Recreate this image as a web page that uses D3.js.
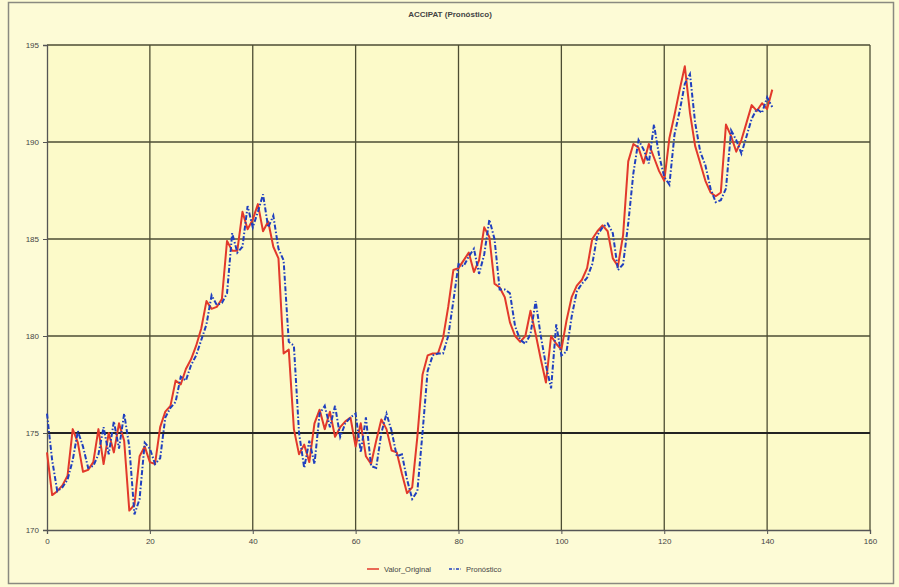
<!DOCTYPE html>
<html>
<head>
<meta charset="utf-8">
<script src="https://cdn.jsdelivr.net/npm/d3@7"></script>
<style>
  body { margin: 0; background: #fdfbd6; }
  svg { display: block; }
  .tick text { font-family: "Liberation Sans", Arial, sans-serif; font-size: 8px; fill: #444; }
</style>
</head>
<body>
<div id="chart"></div>
<script>
var svgWidth = 899;
var svgHeight = 587;

var margin = { left: 47, right: 29, top: 45, bottom: 57 };

var width = svgWidth - margin.left - margin.right,
    height = svgHeight - margin.top - margin.bottom;

var chartTitle = "ACCIPAT (Pronóstico)";
var seriesNames = ["Valor_Original", "Pronóstico"];
var xTicks = [0, 20, 40, 60, 80, 100, 120, 140, 160];
var yTicks = [170, 175, 180, 185, 190, 195];

// Valor_Original, one value per period 0..141
var valorOriginal = [
  174.0, 171.8, 172.0, 172.3, 172.8, 175.2, 174.5, 173.0, 173.1, 173.5,
  175.2, 173.4, 175.0, 174.0, 175.5, 174.6, 171.0, 171.3, 173.8, 174.3,
  173.5, 173.4, 175.3, 176.1, 176.4, 177.7, 177.5, 178.3, 178.8, 179.5,
  180.4, 181.8, 181.4, 181.5, 181.9, 184.9, 184.4, 184.4, 186.4, 185.5,
  186.0, 186.8, 185.4, 185.9, 184.6, 184.0, 179.1, 179.3, 175.2, 173.9,
  174.4, 173.5, 175.5, 176.2, 175.2, 176.1, 174.8, 175.3, 175.6, 175.8,
  174.3, 175.5, 173.8, 173.4, 174.6, 175.7, 175.2, 174.1, 174.0, 172.9,
  171.9, 172.2, 174.8, 178.0, 179.0, 179.1, 179.1, 179.9, 181.5, 183.4,
  183.5, 183.9, 184.3, 183.3, 183.9, 185.6, 185.1, 182.7, 182.5, 182.0,
  180.7, 180.0, 179.7, 180.0, 181.3, 180.1, 178.8, 177.6, 180.0, 179.6,
  179.3, 180.8, 182.0, 182.6, 182.9, 183.5, 185.0, 185.4, 185.7, 185.4,
  184.0, 183.6, 185.2, 189.0, 189.9, 189.7, 188.9, 189.9, 189.2, 188.5,
  188.0, 190.2, 191.4, 192.7, 193.9, 191.5, 189.8, 188.9, 188.0, 187.4,
  187.2, 187.4, 190.9, 190.3, 189.5, 190.1, 191.0, 191.9, 191.6, 192.0,
  191.7, 192.7
];

// Pronóstico, one value per period 0..141
var pronostico = [
  176.0, 173.6, 172.0, 172.2, 172.6, 173.6, 175.1, 174.3, 173.2, 173.3,
  173.9, 175.3, 173.9, 175.6, 174.2, 176.0, 174.3, 170.8, 171.6, 174.5,
  174.2, 173.4, 173.7, 175.8, 176.3, 176.6, 177.9, 177.7, 178.5, 179.0,
  179.8, 180.6, 182.1, 181.6, 181.7, 182.2, 185.3, 184.3, 184.6, 186.7,
  185.6, 186.4, 187.3, 185.6, 186.2, 184.5, 183.9, 179.7, 179.5, 175.0,
  173.2, 174.6, 173.4, 176.0, 176.4, 175.3, 176.4, 174.8, 175.5, 175.8,
  176.0, 174.0, 175.8, 173.3, 173.2, 175.0, 176.0, 175.1, 173.8, 173.9,
  172.6, 171.6, 172.0, 175.0, 178.2, 179.0, 179.1, 179.1, 180.0, 181.8,
  183.7, 183.6, 184.1, 184.5, 183.2, 184.2, 186.0, 185.0, 182.4, 182.4,
  182.2, 180.5, 179.8, 179.6, 180.1, 181.8, 180.0, 178.5, 177.3, 180.6,
  179.0, 179.2, 181.0, 182.3, 182.7, 183.0, 183.7, 185.2, 185.6, 185.8,
  185.3, 183.4, 183.7, 185.8, 188.4, 190.1, 189.6, 188.9, 190.9, 189.3,
  188.2, 187.8, 190.4, 191.6, 193.0, 193.5, 191.0, 189.5, 188.8, 187.6,
  186.9, 187.0, 187.6, 190.6, 190.1, 189.4, 190.3, 191.2, 191.7, 191.5,
  192.3, 191.8
];

var svg = d3.select("#chart")
  .append("svg")
    .attr("width", svgWidth)
    .attr("height", svgHeight);

// outer frame
svg.append("rect")
  .attr("x", 8.5).attr("y", 2.5)
  .attr("width", 885).attr("height", 581)
  .attr("fill", "#fdfbd6")
  .attr("stroke", "#8a8a80")
  .attr("stroke-width", 1.5);

svg.append("text")
  .attr("x", 450).attr("y", 17)
  .attr("text-anchor", "middle")
  .attr("font-family", "Liberation Sans, Arial, sans-serif")
  .attr("font-size", 8)
  .attr("font-weight", "bold")
  .attr("fill", "#444")
  .text(chartTitle);

var chartGroup = svg.append("g")
  .attr("transform", `translate(${margin.left}, ${margin.top})`);

var xLinearScale = d3.scaleLinear()
  .domain([0, 160])
  .range([0, width]);

var yLinearScale = d3.scaleLinear()
  .domain([170, 195])
  .range([height, 0]);

chartGroup.append("rect")
  .attr("width", width).attr("height", height)
  .attr("fill", "#fcfac9");

// grid
chartGroup.append("g")
  .selectAll("line")
  .data(xTicks.slice(1))
  .enter()
  .append("line")
  .attr("x1", d => xLinearScale(d)).attr("x2", d => xLinearScale(d))
  .attr("y1", 0).attr("y2", height)
  .attr("stroke", "#4d4d33")
  .attr("stroke-width", 1.3);

chartGroup.append("g")
  .selectAll("line")
  .data(yTicks.slice(1))
  .enter()
  .append("line")
  .attr("x1", 0).attr("x2", width)
  .attr("y1", d => yLinearScale(d)).attr("y2", d => yLinearScale(d))
  .attr("stroke", d => d === 175 ? "#222" : "#4d4d33")
  .attr("stroke-width", d => d === 175 ? 2 : 1.3);

var bottomAxis = d3.axisBottom(xLinearScale).tickValues(xTicks).tickSize(4).tickPadding(4);
var leftAxis = d3.axisLeft(yLinearScale).tickValues(yTicks).tickSize(4).tickPadding(4);

var gx = chartGroup.append("g")
  .attr("transform", `translate(0, ${height})`)
  .call(bottomAxis);
var gy = chartGroup.append("g")
  .call(leftAxis);
[gx, gy].forEach(function(g) {
  g.select(".domain").attr("stroke", "#555").attr("stroke-width", 1.3);
  g.selectAll(".tick line").attr("stroke", "#555");
});

var line = d3.line()
  .x((d, i) => xLinearScale(i))
  .y(d => yLinearScale(d));

chartGroup.append("path")
  .datum(valorOriginal)
  .attr("d", line)
  .attr("fill", "none")
  .attr("stroke", "#e2392b")
  .attr("stroke-width", 2)
  .attr("stroke-linejoin", "round");

chartGroup.append("path")
  .datum(pronostico)
  .attr("d", line)
  .attr("fill", "none")
  .attr("stroke", "#1f3fbf")
  .attr("stroke-width", 2)
  .attr("stroke-dasharray", "5,2,1.5,2");

// legend
var legend = svg.append("g")
  .attr("transform", "translate(367, 569)");
var legendX = [0, 82];
var legendColors = ["#e2392b", "#1f3fbf"];
var legendDash = [null, "3,1.5,1,1.5"];
seriesNames.forEach(function(name, i) {
  var g = legend.append("g").attr("transform", `translate(${legendX[i]}, 0)`);
  g.append("line")
    .attr("x1", 0).attr("x2", 12).attr("y1", 0).attr("y2", 0)
    .attr("stroke", legendColors[i])
    .attr("stroke-width", 1.5)
    .attr("stroke-dasharray", legendDash[i]);
  g.append("text")
    .attr("x", 17).attr("y", 3)
    .attr("font-family", "Liberation Sans, Arial, sans-serif")
    .attr("font-size", 7.5)
    .attr("fill", "#444")
    .text(name);
});
</script>
</body>
</html>
